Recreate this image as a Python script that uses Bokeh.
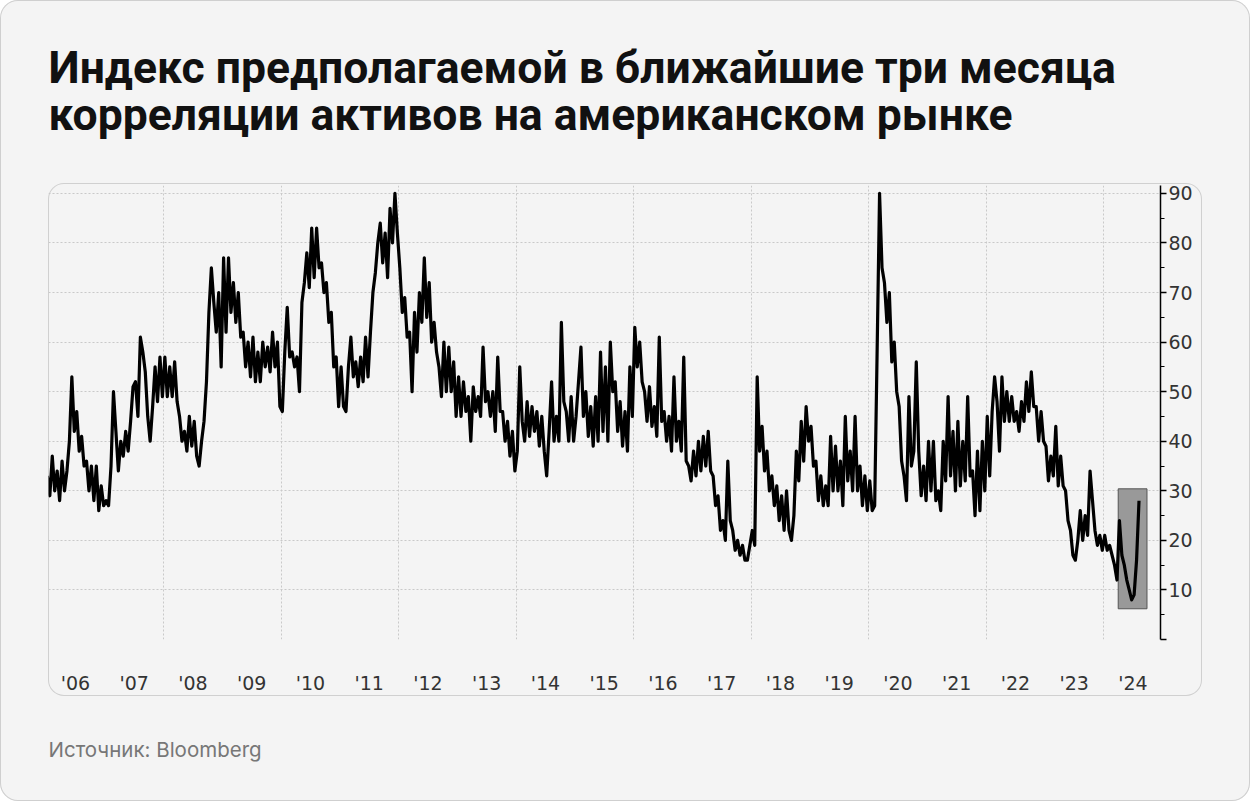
from bokeh.plotting import figure
from bokeh.layouts import column, row
from bokeh.models import (FixedTicker, Label, Range1d, Spacer,
                          CustomJSTickFormatter, ColumnDataSource)
from bokeh.embed import file_html
from bokeh.resources import INLINE

# ---------------- data (half-monthly readings, two per month) ----------------
years = list(range(2006, 2025))
y2006 = [33, 29, 37, 30, 34, 28, 36, 30, 34, 40, 53, 42, 46, 38, 41, 35, 36, 30, 35, 28, 35, 26, 31, 27]
y2007 = [28, 27, 35, 50, 42, 34, 40, 37, 42, 38, 44, 51, 52, 45, 61, 58, 54, 45, 40, 47, 55, 48, 57, 49]
y2008 = [57, 49, 55, 49, 56, 48, 45, 40, 42, 38, 45, 39, 44, 37, 35, 40, 44, 52, 66, 75, 68, 62, 70, 55]
y2009 = [77, 62, 77, 66, 72, 64, 70, 61, 62, 55, 60, 53, 61, 52, 58, 52, 60, 55, 59, 54, 62, 55, 60, 47]
y2010 = [46, 58, 67, 57, 58, 55, 57, 50, 68, 72, 78, 71, 83, 73, 83, 75, 76, 70, 72, 64, 66, 55, 57, 47]
y2011 = [55, 47, 46, 55, 61, 53, 56, 51, 57, 52, 61, 53, 62, 70, 74, 80, 84, 76, 82, 73, 87, 80, 90, 82]
y2012 = [75, 66, 69, 61, 62, 50, 66, 58, 70, 64, 77, 65, 72, 60, 64, 58, 55, 49, 60, 50, 59, 50, 56, 45]
y2013 = [53, 45, 52, 46, 49, 40, 51, 46, 49, 45, 59, 48, 50, 45, 50, 42, 57, 46, 46, 40, 44, 37, 42, 34]
y2014 = [38, 55, 44, 40, 48, 41, 47, 42, 46, 39, 45, 38, 33, 42, 52, 40, 45, 40, 64, 48, 46, 40, 49, 40]
y2015 = [45, 52, 59, 45, 50, 41, 47, 39, 49, 40, 58, 42, 55, 40, 60, 50, 52, 42, 48, 39, 46, 38, 55, 45]
y2016 = [63, 55, 60, 52, 50, 44, 51, 43, 47, 41, 61, 44, 46, 40, 45, 38, 53, 40, 44, 38, 57, 36, 35, 32]
y2017 = [38, 33, 40, 34, 41, 35, 42, 34, 33, 27, 29, 22, 24, 20, 36, 24, 22, 18, 20, 17, 19, 16, 16, 19]
y2018 = [22, 19, 53, 38, 43, 34, 38, 30, 33, 27, 31, 24, 29, 22, 30, 22, 20, 25, 38, 32, 44, 36, 47, 40]
y2019 = [43, 35, 36, 28, 33, 27, 31, 27, 41, 30, 39, 30, 36, 27, 45, 32, 38, 30, 45, 30, 35, 27, 33, 26]
y2020 = [32, 26, 27, 58, 90, 75, 72, 64, 70, 56, 60, 50, 47, 36, 33, 28, 49, 35, 38, 56, 38, 29, 35, 28]
y2021 = [40, 30, 40, 28, 30, 26, 40, 32, 49, 33, 42, 30, 44, 31, 40, 32, 49, 33, 34, 25, 38, 26, 40, 30]
y2022 = [45, 33, 46, 53, 48, 38, 53, 44, 50, 44, 49, 44, 46, 42, 48, 44, 52, 46, 54, 47, 47, 40, 46, 40]
y2023 = [39, 32, 37, 33, 43, 31, 37, 31, 30, 24, 22, 17, 16, 20, 26, 20, 25, 21, 34, 28, 22, 19, 21, 18]
y2024 = [21, 18, 19, 17, 15, 12, 24, 17, 15, 12, 10, 8, 9, 16, 28]
series = [y2006, y2007, y2008, y2009, y2010, y2011, y2012, y2013, y2014, y2015,
          y2016, y2017, y2018, y2019, y2020, y2021, y2022, y2023, y2024]

# highlighted recent period (grey box)
highlight_start = 2024.25
highlight_end = 2024.74
highlight_low = 6.2
highlight_high = 30.4

y_ticks = [0, 10, 20, 30, 40, 50, 60, 70, 80, 90]
y_minor = [5, 15, 25, 35, 45, 55, 65, 75, 85]
grid_years = [2008, 2010, 2012, 2014, 2016, 2018, 2020, 2022, 2024]

title_1 = "Индекс предполагаемой в ближайшие три месяца"
title_2 = "корреляции активов на американском рынке"
source_text = "Источник: Bloomberg"

xs, ys = [], []
for yr, vals in zip(years, series):
    for k, v in enumerate(vals):
        xs.append(yr + (k + 0.5) / 24)
        ys.append(v)
src = ColumnDataSource(dict(x=xs, y=ys))

W, H = 1250, 801
BG = "#f4f4f4"


def text_fig(h):
    f = figure(width=W, height=h, output_backend="svg", toolbar_location=None,
               x_range=Range1d(0, W), y_range=Range1d(h, 0),
               x_axis_location=None, y_axis_location=None,
               min_border_left=0, min_border_right=0, min_border_top=0, min_border_bottom=0,
               background_fill_color=None, border_fill_color=None)
    f.outline_line_color = None
    f.xgrid.visible = False
    f.ygrid.visible = False
    return f


# ---- header ----
head = text_fig(183)
for txt, base in ((title_1, 67), (title_2, 114)):
    head.add_layout(Label(x=48, y=base, text=txt, text_font="Roboto", text_font_style="bold",
                          text_font_size="44.5px", text_color="#111111",
                          text_baseline="alphabetic", text_align="left"))

# ---- chart (card spans page x 48..1202, y 183..696) ----
p = figure(width=1154, height=513, output_backend="svg", toolbar_location=None,
           x_range=Range1d(2006.04, 2024.97), y_range=Range1d(0, 91.6),
           y_axis_location="right",
           min_border_left=0, min_border_right=42, min_border_top=2, min_border_bottom=52,
           background_fill_color=None, border_fill_color=None,
           styles={"border-radius": "16px", "box-shadow": "inset 0 0 0 1px #d0d0d0"})
p.outline_line_color = None

p.xgrid.ticker = FixedTicker(ticks=grid_years)
p.xgrid.grid_line_color = "#c9c9c9"
p.xgrid.grid_line_dash = "2 2"
p.ygrid.grid_line_color = "#c9c9c9"
p.ygrid.grid_line_dash = "2 2"

p.quad(left=[highlight_start], right=[highlight_end], bottom=[highlight_low], top=[highlight_high],
       fill_color="#999999", line_color="#555555", line_width=1)

p.line("x", "y", source=src, line_color="#000000", line_width=3.2, line_join="round")

p.xaxis.ticker = FixedTicker(ticks=[y + 0.5 for y in years])
p.xaxis.formatter = CustomJSTickFormatter(code="return \"'\" + String(Math.floor(tick)).slice(2);")
p.xaxis.axis_line_color = None
p.xaxis.major_tick_line_color = None
p.xaxis.minor_tick_line_color = None
p.xaxis.major_label_standoff = 26
p.xaxis.major_label_text_font = "DejaVu Sans"
p.xaxis.major_label_text_font_size = "19px"
p.xaxis.major_label_text_color = "#333333"

p.yaxis.ticker = FixedTicker(ticks=y_ticks, minor_ticks=y_minor)
p.yaxis.formatter = CustomJSTickFormatter(code="return tick == 0 ? '' : String(tick);")
p.yaxis.axis_line_color = "#000000"
p.yaxis.axis_line_width = 1.5
p.yaxis.major_tick_line_color = "#000000"
p.yaxis.major_tick_line_width = 1.5
p.yaxis.major_tick_in = 0
p.yaxis.major_tick_out = 6
p.yaxis.minor_tick_line_color = "#000000"
p.yaxis.minor_tick_in = 0
p.yaxis.minor_tick_out = 4
p.yaxis.major_label_standoff = 2
p.yaxis.major_label_text_font = "DejaVu Sans"
p.yaxis.major_label_text_font_size = "19px"
p.yaxis.major_label_text_color = "#333333"

# ---- footer ----
foot = text_fig(H - 696)
foot.add_layout(Label(x=48, y=53, text=source_text, text_font="Inter",
                      text_font_size="20.5px", text_color="#777777",
                      text_baseline="alphabetic", text_align="left"))

page = column(head, row(Spacer(width=48, height=513), p), foot,
              styles={"background-color": BG, "border-radius": "18px",
                      "box-shadow": "inset 0 0 0 1px #cfcfcf"})

open("out.html", "w").write(file_html(page, INLINE))
